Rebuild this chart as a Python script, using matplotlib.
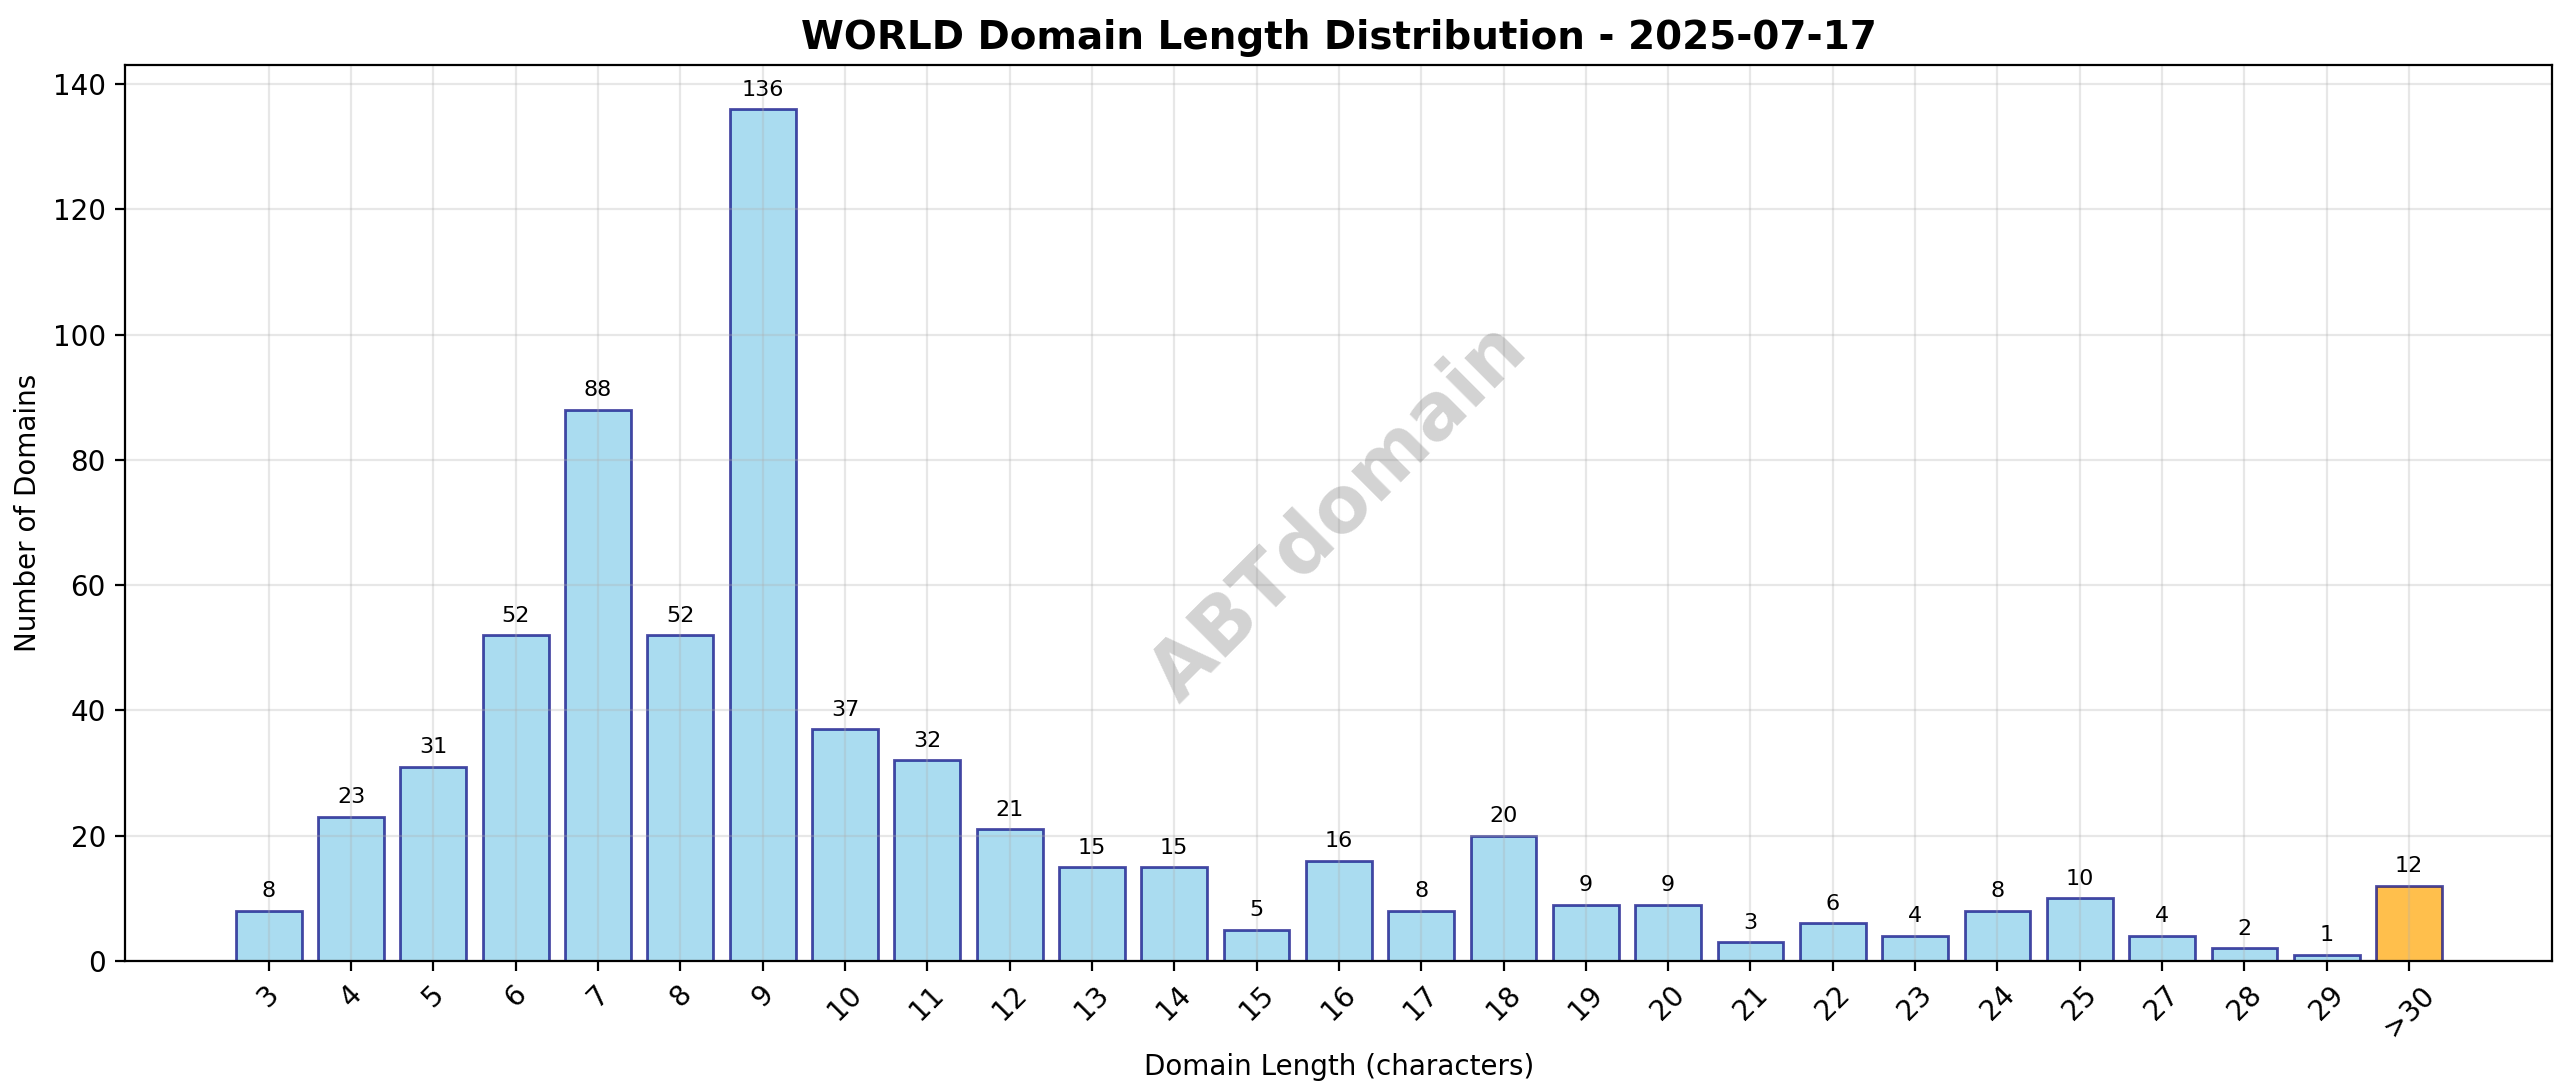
import matplotlib
matplotlib.use("Agg")
from matplotlib import pyplot as plt

lengths = ["3", "4", "5", "6", "7", "8", "9", "10", "11", "12", "13", "14", "15", "16",
           "17", "18", "19", "20", "21", "22", "23", "24", "25", "27", "28", "29", ">30"]
counts = [8, 23, 31, 52, 88, 52, 136, 37, 32, 21, 15, 15, 5, 16,
          8, 20, 9, 9, 3, 6, 4, 8, 10, 4, 2, 1, 12]

colors = ["skyblue"] * (len(lengths) - 1) + ["orange"]

fig, ax = plt.subplots(figsize=(12.8, 5.435), dpi=200)
bars = ax.bar(range(len(lengths)), counts, color=colors, edgecolor="navy", alpha=0.7)
for b, c in zip(bars, counts):
    ax.text(b.get_x() + b.get_width() / 2, b.get_height() + 1.5, str(c),
            ha="center", va="bottom", fontsize=8)

ax.set_xticks(range(len(lengths)))
ax.set_xticklabels(lengths, rotation=45)
ax.set_xlabel("Domain Length (characters)", fontsize=10)
ax.set_ylabel("Number of Domains", fontsize=10)
ax.set_title("WORLD Domain Length Distribution - 2025-07-17", fontsize=14, fontweight="bold")
ax.grid(True, alpha=0.3)
ax.set_ylim(0, 143)
ax.text(0.5, 0.5, "ABTdomain", transform=ax.transAxes, fontsize=28, color="gray",
        alpha=0.35, fontweight="bold", rotation=45, ha="center", va="center")

plt.subplots_adjust(left=0.049, right=0.997, top=0.94, bottom=0.116)
plt.savefig("out.png")
